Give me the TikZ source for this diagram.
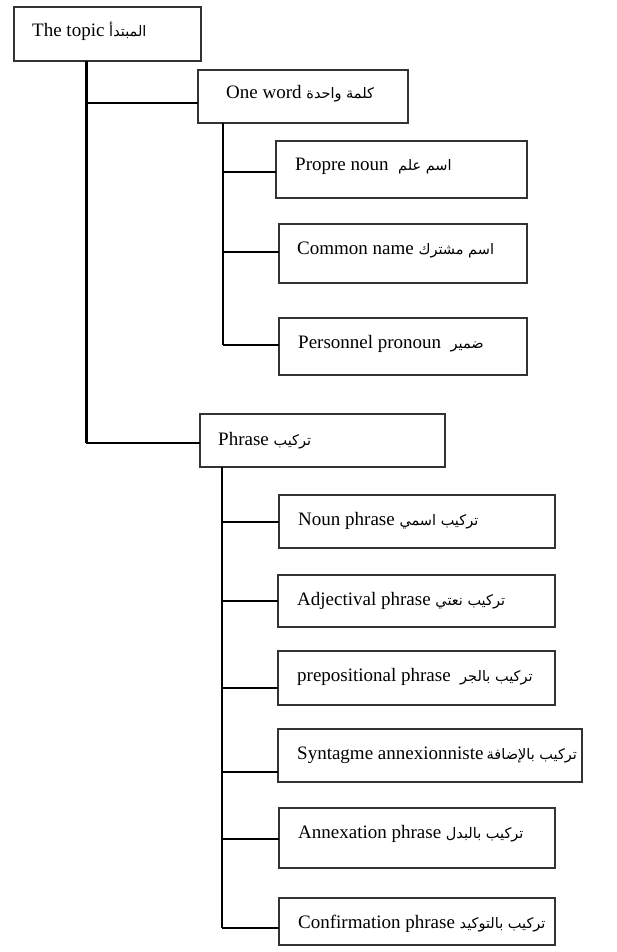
\documentclass[tikz,border=0pt]{standalone}
\usepackage{fontspec}
\setmainfont{Liberation Serif}
\newfontfamily\arabicfont[Script=Arabic]{DejaVu Sans}
\TeXXeTstate=1
\usetikzlibrary{calc}

\definecolor{boxgray}{HTML}{333333}

% Arabic gloss set right to left in a smaller size
\newcommand\argloss[1]{{\arabicfont\fontsize{14.5}{16}\selectfont\beginR #1\endR}}

\tikzset{
  box/.style={draw=boxgray, line width=1.4pt, anchor=north west, inner sep=0pt, outer sep=0pt, fill=white},
  lbl/.style={anchor=base west, inner sep=0pt, font=\fontsize{19}{21}\selectfont, text=black},
  trunk/.style={line width=3pt, draw=black},
  subtrunk/.style={line width=2pt, draw=black},
  link/.style={line width=1.5pt, draw=black},
}

\begin{document}
\begin{tikzpicture}[x=1pt, y=-1pt]
\useasboundingbox (0,0) rectangle (616,952);
\fill[white] (0,0) rectangle (616,952);

% ---- boxes ----
\node[box, minimum width=187pt, minimum height=54pt] (topic) at (14,7) {};
\node[box, minimum width=210pt, minimum height=53pt] (oneword) at (198,70) {};
\node[box, minimum width=251pt, minimum height=57pt] (propre) at (276,141) {};
\node[box, minimum width=248pt, minimum height=59pt] (common) at (279,224) {};
\node[box, minimum width=248pt, minimum height=57pt] (pron) at (279,318) {};
\node[box, minimum width=245pt, minimum height=53pt] (phrase) at (200,414) {};
\node[box, minimum width=276pt, minimum height=53pt] (noun) at (279,495) {};
\node[box, minimum width=277pt, minimum height=52pt] (adj) at (278,575) {};
\node[box, minimum width=277pt, minimum height=54pt] (prep) at (278,651) {};
\node[box, minimum width=304pt, minimum height=53pt] (synt) at (278,729) {};
\node[box, minimum width=276pt, minimum height=60pt] (annex) at (279,808) {};
\node[box, minimum width=276pt, minimum height=47pt] (confirm) at (279,898) {};

% ---- labels ----
\node[lbl] (topic-t) at ($(topic.north west)+(18,30)$) {The topic \argloss{المبتدأ}};
\node[lbl] (oneword-t) at ($(oneword.north west)+(28,29)$) {One word \argloss{كلمة واحدة}};
\node[lbl] (propre-t) at ($(propre.north west)+(19,30)$) {Propre noun\ \ \argloss{اسم علم}};
\node[lbl] (common-t) at ($(common.north west)+(18,30)$) {Common name \argloss{اسم مشترك}};
\node[lbl] (pron-t) at ($(pron.north west)+(19,30)$) {Personnel pronoun\ \ \argloss{ضمير}};
\node[lbl] (phrase-t) at ($(phrase.north west)+(18,31)$) {Phrase \argloss{تركيب}};
\node[lbl] (noun-t) at ($(noun.north west)+(19,30)$) {Noun phrase \argloss{تركيب اسمي}};
\node[lbl] (adj-t) at ($(adj.north west)+(19,30)$) {Adjectival phrase \argloss{تركيب نعتي}};
\node[lbl] (prep-t) at ($(prep.north west)+(19,30)$) {prepositional phrase\ \ \argloss{تركيب بالجر}};
\node[lbl] (synt-t) at ($(synt.north west)+(19,30)$) {Syntagme annexionniste\,\argloss{تركيب بالإضافة}};
\node[lbl] (annex-t) at ($(annex.north west)+(19,30)$) {Annexation phrase \argloss{تركيب بالبدل}};
\node[lbl] (confirm-t) at ($(confirm.north west)+(19,30)$) {Confirmation phrase \argloss{تركيب بالتوكيد}};

% ---- ports where the connectors meet the boxes ----
\coordinate (oneword-in) at ($(oneword.west)+(0,6.5)$);
\coordinate (phrase-in) at ($(phrase.west)+(0,2.5)$);
\coordinate (propre-in) at ($(propre.west)+(0,2.5)$);
\coordinate (common-in) at ($(common.west)+(0,-1.5)$);
\coordinate (pron-in) at ($(pron.west)+(0,-1.5)$);
\coordinate (noun-in) at ($(noun.west)+(0,0.5)$);
\coordinate (adj-in) at (adj.west);
\coordinate (prep-in) at ($(prep.west)+(0,10)$);
\coordinate (synt-in) at ($(synt.west)+(0,16.5)$);
\coordinate (annex-in) at ($(annex.west)+(0,1)$);
\coordinate (confirm-in) at ($(confirm.west)+(0,6.5)$);

% ---- connectors ----
\coordinate (topic-out) at ($(topic.south west)+(72,0)$);
\coordinate (oneword-out) at ($(oneword.south west)+(25,0)$);
\coordinate (phrase-out) at ($(phrase.south west)+(22,0)$);

\draw[trunk] (topic-out) -- (topic-out |- phrase-in);
\draw[link] (topic-out |- oneword-in) -- (oneword-in);
\draw[link] (topic-out |- phrase-in) -- (phrase-in);

\draw[subtrunk] (oneword-out) -- (oneword-out |- pron-in);
\foreach \p in {propre, common, pron}
  \draw[link] (oneword-out |- \p-in) -- (\p-in);

\draw[subtrunk] (phrase-out) -- (phrase-out |- confirm-in);
\foreach \p in {noun, adj, prep, synt, annex, confirm}
  \draw[link] (phrase-out |- \p-in) -- (\p-in);
\end{tikzpicture}
\end{document}
